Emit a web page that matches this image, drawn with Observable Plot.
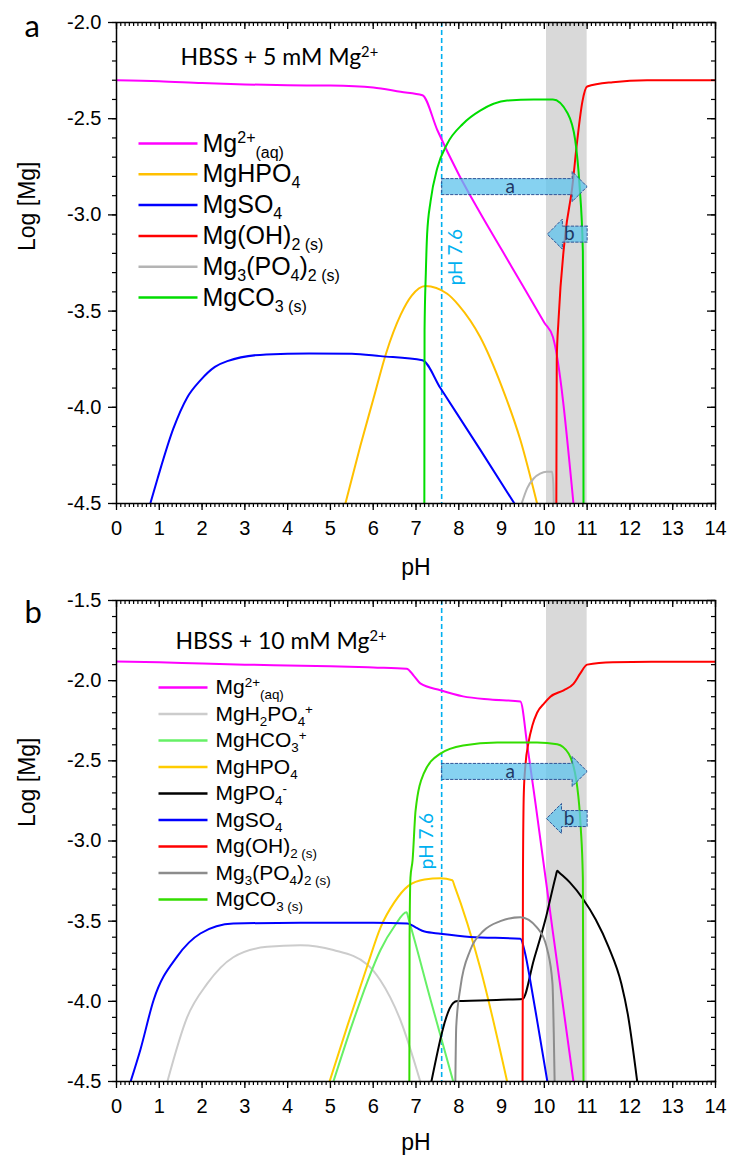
<!DOCTYPE html>
<html>
<head>
<meta charset="utf-8">
<script src="https://cdn.jsdelivr.net/npm/d3@7"></script>
<script src="https://cdn.jsdelivr.net/npm/@observablehq/plot@0.6"></script>
<style>
  body { margin: 0; background: #fff; }
  #chart { width: 729px; }
  #chart svg { display: block; }
</style>
</head>
<body>
<div id="chart"></div>
<script>
// ---------- axis ticks ----------
const pHMajor = d3.range(0, 15);
const pHMinor = d3.range(0, 141).map(i => i / 10);
const logMajorA = [-4.5, -4.0, -3.5, -3.0, -2.5, -2.0];
const logMinorA = d3.range(-45, -19).map(i => i / 10);
const logMajorB = [-4.5, -4.0, -3.5, -3.0, -2.5, -2.0, -1.5];
const logMinorB = d3.range(-45, -14).map(i => i / 10);

// ---------- reference pH, titration window ----------
const refPH = 7.6;
const windowPH = [10.05, 11.0];

// ---------- panel a: HBSS + 5 mM Mg2+  ([pH, log Mg]) ----------
const aMgAq = [[0,-2.300],[1,-2.305],[2,-2.315],[3,-2.322],[4,-2.326],[5,-2.328],[6,-2.338],[6.64,-2.360],[7.15,-2.378],
  [7.5,-2.56],[8.0,-2.79],[8.5,-2.99],[9.0,-3.18],[9.5,-3.37],[10.0,-3.56],[10.2,-3.635],[10.68,-4.5]];
const aMgHPO4 = [[5.35,-4.5],[5.7,-4.2],[6.0,-3.96],[6.3,-3.72],[6.64,-3.52],[6.9,-3.42],[7.22,-3.37],[7.73,-3.41],
  [8.0,-3.47],[8.5,-3.635],[9.0,-3.89],[9.44,-4.17],[9.83,-4.5]];
const aMgSO4 = [[0.79,-4.5],[0.96,-4.37],[1.33,-4.11],[1.65,-3.95],[1.96,-3.86],[2.3,-3.79],[2.59,-3.76],[3.5,-3.725],
  [4.5,-3.72],[5.5,-3.722],[6.17,-3.734],[7.15,-3.755],[7.57,-3.9],[8.5,-4.22],[9.3,-4.5]];
const aMgOH2 = [[10.28,-4.5],[10.29,-3.75],[10.33,-3.55],[10.49,-3.1],[10.65,-2.86],[10.77,-2.61],[10.89,-2.41],
  [11.0,-2.333],[11.6,-2.31],[12.4,-2.30],[14,-2.30]];
const aMg3PO42 = [[9.47,-4.5],[9.6,-4.42],[9.75,-4.37],[9.9,-4.345],[10.05,-4.335],[10.18,-4.335],[10.21,-4.4],[10.22,-4.5]];
const aMgCO3 = [[7.195,-4.5],[7.2,-3.6],[7.23,-3.3],[7.26,-3.1],[7.34,-2.93],[7.5,-2.755],[7.73,-2.63],[8.1,-2.526],
  [8.5,-2.458],[9.13,-2.406],[9.75,-2.40],[10.2,-2.40],[10.54,-2.47],[10.72,-2.61],[10.82,-2.84],[10.9,-3.19],
  [10.91,-3.6],[10.915,-4.5]];

// ---------- panel b: HBSS + 10 mM Mg2+ ----------
const bMgAq = [[0,-1.88],[1,-1.885],[2,-1.893],[3,-1.90],[4,-1.905],[5,-1.91],[6,-1.918],[6.78,-1.925],[6.95,-1.97],
  [7.1,-2.017],[7.57,-2.06],[8.1,-2.098],[8.74,-2.117],[9.44,-2.13],[9.6,-2.40],[9.8,-2.78],[10.2,-3.57],[10.68,-4.5]];
const bMgH2PO4 = [[1.19,-4.5],[1.65,-4.1],[2.12,-3.89],[2.73,-3.725],[3.52,-3.66],[4.3,-3.65],[5.07,-3.68],[5.86,-3.77],
  [6.17,-3.87],[6.64,-4.12],[7.1,-4.5]];
const bMgHCO3 = [[5.07,-4.5],[5.5,-4.15],[5.86,-3.88],[6.17,-3.68],[6.5,-3.53],[6.78,-3.445],[6.83,-3.49],[7.34,-3.99],[7.87,-4.5]];
const bMgHPO4 = [[4.98,-4.5],[5.4,-4.15],[5.86,-3.78],[6.17,-3.54],[6.5,-3.38],[6.82,-3.28],[7.2,-3.24],[7.57,-3.233],
  [7.85,-3.245],[7.9,-3.28],[8.5,-3.79],[9.13,-4.5]];
const bMgPO4 = [[7.36,-4.5],[7.87,-4.01],[7.97,-3.998],[8.5,-3.995],[9.0,-3.99],[9.49,-3.985],[9.75,-3.745],[10.02,-3.495],
  [10.27,-3.215],[10.3,-3.185],[10.34,-3.195],[10.6,-3.26],[10.9,-3.36],[11.2,-3.49],[11.5,-3.66],[11.8,-3.89],
  [11.95,-4.08],[12.17,-4.5]];
const bMgSO4 = [[0.33,-4.5],[0.56,-4.3],[0.87,-3.99],[1.42,-3.72],[1.96,-3.577],[2.73,-3.515],[4.3,-3.51],[6.0,-3.51],
  [6.8,-3.515],[7.0,-3.54],[7.2,-3.565],[7.57,-3.578],[8.27,-3.598],[9.44,-3.61],[9.55,-3.7],[9.67,-3.87],[9.85,-4.15],[10.07,-4.5]];
const bMgOH2 = [[9.49,-4.5],[9.5,-3.2],[9.52,-2.7],[9.56,-2.52],[9.63,-2.385],[9.72,-2.28],[9.83,-2.2],[10.0,-2.14],
  [10.14,-2.1],[10.45,-2.06],[10.68,-2.02],[10.84,-1.955],[11.0,-1.90],[11.6,-1.885],[12.5,-1.882],[14,-1.882]];
const bMg3PO42 = [[7.92,-4.5],[7.94,-4.16],[8.04,-3.91],[8.27,-3.68],[8.58,-3.56],[8.97,-3.5],[9.44,-3.475],[9.83,-3.54],
  [10.07,-3.68],[10.19,-3.89],[10.22,-4.2],[10.24,-4.5]];
const bMgCO3 = [[6.845,-4.5],[6.85,-3.6],[6.87,-3.23],[6.92,-3.12],[6.99,-2.81],[7.18,-2.58],[7.57,-2.455],[8.1,-2.404],
  [8.9,-2.385],[9.83,-2.385],[10.3,-2.397],[10.57,-2.456],[10.77,-2.666],[10.85,-2.915],[10.9,-3.23],[10.915,-4.5]];

// ---------- legends (markup: ^{...} superscript, _{...} subscript) ----------
const aNames = ["Mg^{2+}_{(aq)}", "MgHPO_{4}", "MgSO_{4}", "Mg(OH)_{2 (s)}", "Mg_{3}(PO_{4})_{2 (s)}", "MgCO_{3 (s)}"];
const aColors = ["#ff00ff", "#ffc000", "#0000ff", "#ff0000", "#b4b4b4", "#00dd00"];
const aValues = [aMgAq, aMgHPO4, aMgSO4, aMgOH2, aMg3PO42, aMgCO3];

const bNames = ["Mg^{2+}_{(aq)}", "MgH_{2}PO_{4}^{+}", "MgHCO_{3}^{+}", "MgHPO_{4}", "MgPO_{4}^{-}", "MgSO_{4}",
  "Mg(OH)_{2 (s)}", "Mg_{3}(PO_{4})_{2 (s)}", "MgCO_{3 (s)}"];
const bColors = ["#ff00ff", "#cccccc", "#66f066", "#ffcc00", "#000000", "#0000ff", "#ff0000", "#8c8c8c", "#33dd00"];
const bValues = [bMgAq, bMgH2PO4, bMgHCO3, bMgHPO4, bMgPO4, bMgSO4, bMgOH2, bMg3PO42, bMgCO3];

// ---------- annotation arrows (pH from tail to tip, at a log level) ----------
const aArrows = [{label: "a", tail: 7.6, tip: 11.0, level: -2.853}, {label: "b", tail: 11.0, tip: 10.07, level: -3.10}];
const bArrows = [{label: "a", tail: 7.6, tip: 11.0, level: -2.566}, {label: "b", tail: 11.0, tip: 10.05, level: -2.86}];

const ARIAL = "'Liberation Sans', Arial, sans-serif";
const HUMAN = "Lato, 'Open Sans', sans-serif";

function drawPanel(p) {
  const W = 729, mL = 116, mR = 14;
  const innerW = W - mL - mR;
  const innerH = p.height - p.marginTop - p.marginBottom;
  const kx = 14 / innerW;                                  // pH per pixel
  const ky = (p.yDomain[1] - p.yDomain[0]) / innerH;       // log units per pixel
  const fx = px => px * kx;
  const fy = px => p.yDomain[1] - px * ky;

  // arrow outlines
  const shapes = p.arrows.flatMap((a, i) => {
    const dir = Math.sign(a.tip - a.tail);
    const base = a.tip - 15 * kx * dir, hb = 8 * ky, hh = 15 * ky, c = a.level;
    return [[a.tail, c + hb], [base, c + hb], [base, c + hh], [a.tip, c], [base, c - hh],
            [base, c - hb], [a.tail, c - hb], [a.tail, c + hb]].map(([x, y]) => ({id: i, x, y}));
  });

  // legend rows
  const L = p.legendLayout;
  const rows = p.names.map((name, i) => ({name, color: p.colors[i], y: fy(L.top + i * L.step)}));

  const marks = [
    Plot.rect([windowPH], {x1: d => d[0], x2: d => d[1], fill: "#d9d9d9"}),
    Plot.ruleX([refPH], {stroke: "#00b0f0", strokeWidth: 1.6, strokeDasharray: "5,3"}),
    ...p.values.map((v, i) => Plot.line(v, {x: d => d[0], y: d => d[1], stroke: p.colors[i], strokeWidth: 2,
      curve: "monotone-x", clip: true})),
    Plot.line(shapes, {x: "x", y: "y", z: "id", fill: "#5ec3ec", fillOpacity: 0.75, stroke: "#2f5597",
      strokeWidth: 1, strokeDasharray: "2.5,2", curve: "linear", strokeLinejoin: "miter"}),
    Plot.text(p.arrows, {x: d => (d.tail + d.tip) / 2 + (d.label === "b" ? 0.05 : -0.1), y: "level", text: "label",
      fill: "#1f3864", fontSize: 19, fontFamily: HUMAN, lineAnchor: "middle"}),
    Plot.text([refPH], {x: d => d, y: () => p.refLevel, dx: p.refDx, rotate: -90, text: () => "pH 7.6",
      fill: "#00b0f0", fontSize: 19, fontFamily: HUMAN, lineAnchor: "middle"}),
    // legend
    Plot.link(rows, {x1: () => fx(L.x0), x2: () => fx(L.x1), y1: "y", y2: "y", stroke: "color", strokeWidth: 2.5}),
    Plot.text(rows, {x: () => fx(L.xt), y: "y", text: "name", textAnchor: "start", lineAnchor: "middle",
      fontSize: L.fontSize, fontFamily: ARIAL}),
    // title, panel letter, axis titles
    Plot.text([p.title], {frameAnchor: "top-left", dx: p.titleDx, dy: p.titleDy, textAnchor: "start",
      lineAnchor: "middle", fontSize: 23, fontFamily: HUMAN}),
    Plot.text([p.letter], {frameAnchor: "top-left", dx: -92, dy: p.letterDy, lineAnchor: "middle",
      fontSize: 31, fontFamily: HUMAN}),
    Plot.text(["Log [Mg]"], {frameAnchor: "left", dx: -89, dy: p.yLabelDy, rotate: -90, lineAnchor: "middle",
      fontSize: 23, fontFamily: ARIAL}),
    Plot.text(["pH"], {frameAnchor: "bottom", dy: p.xLabelDy, lineAnchor: "middle", fontSize: 23, fontFamily: ARIAL}),
    // axes
    Plot.axisY({ticks: p.yMajor, anchor: "left", tickSize: 8, tickPadding: 7, tickFormat: d => d.toFixed(1),
      label: null, fontSize: 20, strokeWidth: 1.3}),
    Plot.axisY({ticks: p.yMinor, anchor: "left", tickSize: 4, tickFormat: () => "", label: null, strokeWidth: 1.2}),
    Plot.axisX({ticks: pHMajor, anchor: "bottom", tickSize: 7, tickPadding: 10, tickFormat: d => `${d}`,
      label: null, fontSize: 20, strokeWidth: 1.3}),
    Plot.axisX({ticks: pHMinor, anchor: "bottom", tickSize: 4, tickFormat: () => "", label: null, strokeWidth: 1.2}),
    Plot.tickX(pHMajor, {x: d => d, insetBottom: innerH - 7, strokeWidth: 1.3}),
    Plot.tickX(pHMinor, {x: d => d, insetBottom: innerH - 4, strokeWidth: 1.2}),
    Plot.tickY(p.yMajor, {y: d => d, insetLeft: innerW - 8, strokeWidth: 1.3}),
    Plot.tickY(p.yMinor, {y: d => d, insetLeft: innerW - 4, strokeWidth: 1.2}),
    Plot.frame({stroke: "black", strokeWidth: 1.5})
  ];

  return Plot.plot({
    width: W, height: p.height,
    marginLeft: mL, marginRight: mR, marginTop: p.marginTop, marginBottom: p.marginBottom,
    x: {domain: [0, 14]},
    y: {domain: p.yDomain},
    color: {type: "identity"},
    style: {fontFamily: ARIAL, fontSize: "20px", color: "black", background: "white", overflow: "visible"},
    marks
  });
}

// turn ^{..} / _{..} markup into raised / lowered tspans
function richText(svg) {
  svg.querySelectorAll("text").forEach(t => {
    const s = t.textContent;
    if (!/[_^]\{/.test(s)) return;
    const fs = parseFloat(getComputedStyle(t).fontSize) || 20;
    const parts = [];
    const re = /([_^])\{([^}]*)\}|([^_^]+)/g;
    let m;
    while ((m = re.exec(s))) parts.push(m[3] != null ? {t: m[3], k: 0} : {t: m[2], k: m[1] === "^" ? 1 : -1});
    while (t.firstChild) t.removeChild(t.firstChild);
    let cur = 0;
    for (const part of parts) {
      const ts = document.createElementNS("http://www.w3.org/2000/svg", "tspan");
      const off = part.k === 1 ? -0.34 * fs : part.k === -1 ? 0.24 * fs : 0;
      if (off - cur !== 0) ts.setAttribute("dy", (off - cur).toFixed(2));
      cur = off;
      if (part.k) ts.setAttribute("font-size", (0.64 * fs).toFixed(1));
      ts.textContent = part.t;
      t.appendChild(ts);
    }
  });
}

const chart = document.getElementById("chart");

const svgA = drawPanel({
  height: 575, marginTop: 22, marginBottom: 72,
  yDomain: [-4.5, -2.0], yMajor: logMajorA, yMinor: logMinorA,
  names: aNames, colors: aColors, values: aValues, arrows: aArrows,
  legendLayout: {x0: 22, x1: 81, xt: 86, top: 121, step: 30.8, fontSize: 25},
  refLevel: -3.22, refDx: 14,
  title: "HBSS + 5 mM Mg^{2+}", titleDx: 64, titleDy: 35,
  letter: "a", letterDy: 5, yLabelDy: -12, xLabelDy: 64
});
chart.appendChild(svgA);

const svgB = drawPanel({
  height: 582, marginTop: 25, marginBottom: 76,
  yDomain: [-4.5, -1.5], yMajor: logMajorB, yMinor: logMinorB,
  names: bNames, colors: bColors, values: bValues, arrows: bArrows,
  legendLayout: {x0: 42, x1: 91, xt: 99, top: 87, step: 26.5, fontSize: 21},
  refLevel: -3.0, refDx: -15,
  title: "HBSS + 10 mM Mg^{2+}", titleDx: 59, titleDy: 41,
  letter: "b", letterDy: 13, yLabelDy: -14, xLabelDy: 61
});
chart.appendChild(svgB);

richText(svgA);
richText(svgB);
</script>
</body>
</html>
